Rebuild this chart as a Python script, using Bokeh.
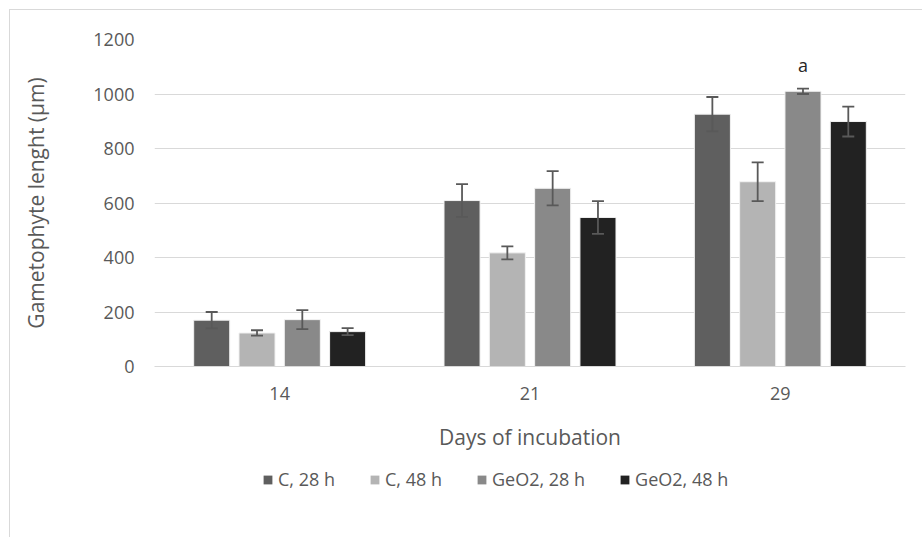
from bokeh.plotting import figure
from bokeh.layouts import column
from bokeh.models import (ColumnDataSource, FactorRange, FixedTicker, Whisker,
                          TeeHead, Legend, LegendItem, Range1d)
from bokeh.transform import dodge
from bokeh.core.properties import value
from bokeh.embed import file_html
from bokeh.resources import INLINE

# Mean gametophyte length (µm) and error per treatment, by day of incubation
days = ["14", "21", "29"]
series = ["C, 28 h", "C, 48 h", "GeO2, 28 h", "GeO2, 48 h"]
c_28h = [170, 609, 926]
c_28h_err = [30, 60, 63]
c_48h = [123, 417, 678]
c_48h_err = [10, 24, 71]
geo2_28h = [172, 654, 1010]
geo2_28h_err = [35, 63, 10]
geo2_48h = [128, 547, 899]
geo2_48h_err = [13, 60, 55]
y_ticks = [0, 200, 400, 600, 800, 1000, 1200]

colors = ["#5f5f5f", "#b4b4b4", "#898989", "#222222"]
FONT = "Open Sans"
TEXT = "#595959"

p = figure(width=912, height=450, x_range=FactorRange(*days, range_padding=0),
           y_range=(0, 1200), output_backend="svg", toolbar_location=None,
           min_border_left=144, min_border_right=17, min_border_top=29,
           min_border_bottom=94)
p.outline_line_color = None
p.background_fill_color = "white"
p.border_fill_color = "white"

step = 0.181
offsets = [-1.5 * step, -0.5 * step, 0.5 * step, 1.5 * step]
values = [c_28h, c_48h, geo2_28h, geo2_48h]
errors = [c_28h_err, c_48h_err, geo2_28h_err, geo2_48h_err]

for name, vals, errs, off, col in zip(series, values, errors, offsets, colors):
    src = ColumnDataSource(dict(day=days, val=vals,
                                upper=[v + e for v, e in zip(vals, errs)],
                                lower=[v - e for v, e in zip(vals, errs)]))
    p.vbar(x=dodge("day", off, range=p.x_range), top="val", width=0.144,
           source=src, fill_color=col, line_color="#f2f2f2", line_width=1)
    w = Whisker(base=dodge("day", off, range=p.x_range), upper="upper",
                lower="lower", source=src, line_color=TEXT, line_width=1.8,
                upper_head=TeeHead(size=12, line_color=TEXT, line_width=1.8),
                lower_head=TeeHead(size=12, line_color=TEXT, line_width=1.8),
                level="overlay")
    p.add_layout(w)

    if name == "GeO2, 28 h":
        # significance mark above the day-29 bar
        sig = ColumnDataSource(dict(day=[days[2]], y=[vals[2] + errs[2]], t=["a"]))
        p.text(x=dodge("day", off, range=p.x_range), y="y", text="t", source=sig,
               text_align="center", text_baseline="middle", y_offset=-24,
               text_font=value(FONT), text_font_size="18px", text_color="#262626")

p.yaxis.ticker = FixedTicker(ticks=y_ticks)
p.ygrid.ticker = FixedTicker(ticks=y_ticks)
p.ygrid.grid_line_color = "#d9d9d9"
p.ygrid.grid_line_width = 1
p.xgrid.grid_line_color = None

for ax in (p.xaxis, p.yaxis):
    ax.axis_line_color = None
    ax.major_tick_line_color = None
    ax.minor_tick_line_color = None
    ax.major_tick_out = 0
    ax.major_tick_in = 0
    ax.major_label_text_font = FONT
    ax.major_label_text_font_size = "18px"
    ax.major_label_text_color = TEXT
    ax.axis_label_text_font = FONT
    ax.axis_label_text_font_size = "21px"
    ax.axis_label_text_font_style = "normal"
    ax.axis_label_text_color = TEXT

p.xaxis.axis_line_color = "#d9d9d9"
p.xaxis.axis_label = "Days of incubation"
p.yaxis.axis_label = "Gametophyte lenght (µm)"
p.yaxis.major_label_standoff = 20
p.yaxis.axis_label_standoff = 40
p.xaxis.major_label_standoff = 20
p.xaxis.axis_label_standoff = 20

# legend strip under the chart; its swatch bars have zero height
q = figure(width=912, height=77, x_range=Range1d(0, 1), y_range=Range1d(0, 1),
           x_axis_type=None, y_axis_type=None,
           output_backend="svg", toolbar_location=None, min_border=0)
q.grid.grid_line_color = None
q.outline_line_color = None
q.border_fill_color = "white"
q.background_fill_color = "white"
items = []
for name, col in zip(series, colors):
    r = q.vbar(x=[0.5], top=[0], bottom=[0], width=0.01, fill_color=col,
               line_color=None)
    items.append(LegendItem(label=name, renderers=[r]))
legend = Legend(items=items, orientation="horizontal", location=(108, 46),
                border_line_color=None, background_fill_alpha=0,
                label_text_font=FONT, label_text_font_size="18px",
                label_text_color=TEXT, glyph_width=11, glyph_height=11,
                label_standoff=5, spacing=34, padding=0, margin=0)
q.add_layout(legend)

page = column(p, q, spacing=0)
page.styles = {"margin-left": "9px", "margin-top": "9px",
               "border-left": "1px solid #d9d9d9", "border-top": "1px solid #d9d9d9"}

open("out.html", "w").write(file_html(page, INLINE))
